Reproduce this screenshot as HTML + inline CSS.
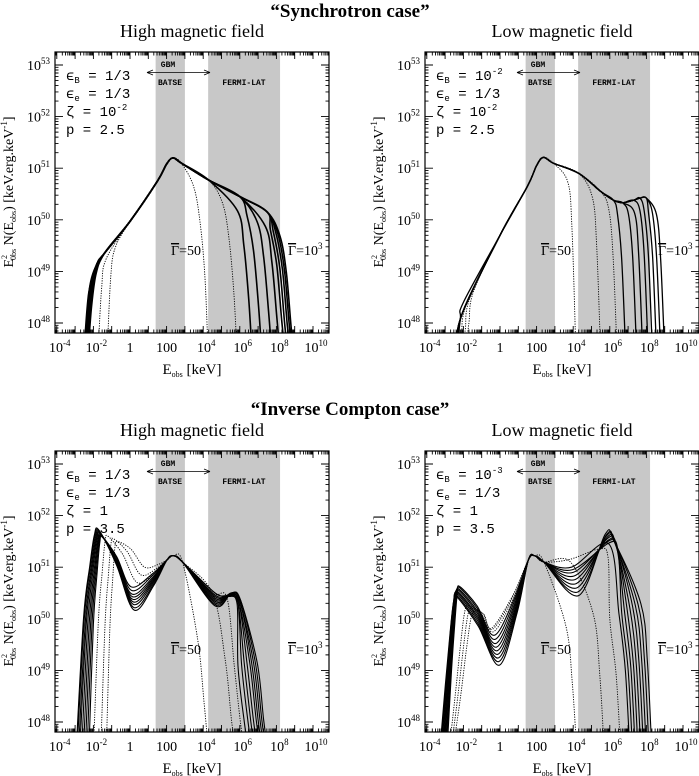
<!DOCTYPE html>
<html><head><meta charset="utf-8"><style>
html,body{margin:0;padding:0;background:#fff;}
svg{display:block;}
.serif{font-family:"Liberation Serif","DejaVu Serif",serif;}
.mono{font-family:"Liberation Mono","DejaVu Sans Mono",monospace;}
</style></head><body>
<svg id="fig" width="699" height="776" viewBox="0 0 699 776" xmlns="http://www.w3.org/2000/svg">
<text class="serif" x="350" y="17" text-anchor="middle" font-size="19" font-weight="bold">“Synchrotron case”</text>
<text class="serif" x="350" y="415" text-anchor="middle" font-size="19" font-weight="bold">“Inverse Compton case”</text>
</svg>
<script>
// ---------- data ----------
const xTickLogs = [-4,-2,0,2,4,6,8,10];
const xTickLabels = [["10","-4"],["10","-2"],["1",""],["100",""],["10","4"],["10","6"],["10","8"],["10","10"]];
const yTickLogs = [48,49,50,51,52,53];
const yTickLabels = ["48","49","50","51","52","53"];
const gbmBand = [1.4, 3.0];
const latBand = [4.27, 8.2];

// Synchrotron high B : base spectrum [logE, logN]
const syncHighBase = [[-2.8,47.0],[-2.5,48.2],[-2.2,48.85],[-1.8,49.15],[-1.4,49.35],[0,49.97],[1.5,50.75],[2.0,51.08],[2.35,51.2],[2.8,51.1],[4.3,50.77],[6,50.45],[7.5,50.15],[8.2,49.98],[9,49.7],[10,49.3]];
const syncHighLowCut = [-2.7,-2.65,-2.6,-2.55,-2.5,-2.45,-2.4,-2.35,-2.3,-1.75,-1.25];
const syncHighHighCut = [6.67,7.2,7.75,8.2,8.47,8.63,8.78,8.9,9.0,4.27,5.85];
const syncHighDotted = 2;

// Synchrotron low B
const syncLowBase = [[-2.8,47.2],[-2.3,48.1],[-2.0,48.4],[0,49.7],[1.5,50.65],[2.0,51.05],[2.37,51.21],[2.9,51.1],[4.3,50.9],[5.5,50.55],[6.2,50.38],[6.7,50.33],[7.3,50.38],[7.65,50.42],[8.0,50.42],[9,50.3]];
const syncLowLowCut = [-2.62,-2.6,-2.58,-2.56,-2.54,-2.52,-2.5,-2.48,-2.3,-2.1,-1.9];
const syncLowHighCut = [6.87,7.47,7.8,8.1,8.33,8.56,8.78,9.0,4.15,5.5,6.4];
const syncLowDotted = 3;

// IC high B (per curve key values)
const icHighLc = [-2.95,-2.9,-2.82,-2.75,-2.65,-2.55,-2.45,-2.35,-2.25,-2.0,-1.6,-1.3];
const icHighPE = [-1.7,-1.68,-1.65,-1.62,-1.6,-1.57,-1.55,-1.52,-1.5,-1.2,-0.9,-0.7];
const icHighPN = [51.72,51.7,51.68,51.66,51.64,51.62,51.6,51.6,51.58,51.6,51.55,51.5];
const icHighTE = [0.22,0.2,0.18,0.16,0.14,0.12,0.1,0.08,0.06,0.4,0.6,0.8];
const icHighTN = [50.17,50.22,50.28,50.33,50.38,50.43,50.48,50.55,50.62,50.7,50.85,51.0];
const icHighME = [2.37,2.37,2.37,2.37,2.37,2.37,2.37,2.37,2.37,2.37,2.37,2.37];
const icHighMN = [51.22,51.22,51.22,51.22,51.22,51.22,51.22,51.22,51.22,51.22,51.22,51.22];
const icHighRE = [4.65,4.65,4.65,4.65,4.65,4.65,4.65,4.65,4.65,4.5,4.5,4.5];
const icHighRN = [50.25,50.28,50.31,50.34,50.37,50.4,50.43,50.46,50.5,50.5,50.5,50.5];
const icHighBE = [5.55,5.55,5.5,5.5,5.45,5.45,5.4,5.4,5.35,5.3,5.3,5.3];
const icHighBN = [50.5,50.5,50.5,50.49,50.48,50.47,50.46,50.45,50.44,50.4,50.4,50.4];
const icHighHc = [7.55,7.45,7.35,7.25,7.15,7.0,6.85,6.7,6.5,4.3,5.8,6.3];
const icHighDotted = 3;

// IC low B
const icLowLc = [-3.3,-3.25,-3.2,-3.15,-3.1,-3.05,-3.0,-2.95,-2.9,-2.8,-2.7,-2.6];
const icLowPE = [-2.35,-2.35,-2.33,-2.3,-2.28,-2.25,-2.22,-2.2,-2.18,-1.7,-1.5,-1.3];
const icLowPN = [50.42,50.45,50.48,50.5,50.52,50.55,50.57,50.6,50.62,50.25,50.2,50.15];
const icLowTE = [-0.04,-0.07,-0.1,-0.13,-0.16,-0.2,-0.24,-0.28,-0.32,-0.35,-0.4,-0.45];
const icLowTN = [49.1,49.17,49.24,49.31,49.38,49.45,49.52,49.6,49.68,49.75,49.8,49.82];
const icLowME = [1.9,1.9,1.9,1.9,1.9,1.9,1.9,1.9,1.9,1.9,1.9,1.9];
const icLowMN = [51.22,51.22,51.22,51.22,51.22,51.22,51.22,51.22,51.22,51.22,51.22,51.22];
const icLowRE = [4.3,4.25,4.2,4.15,4.1,4.05,4.0,3.95,3.9,3.9,3.85,3.8];
const icLowRN = [50.45,50.52,50.6,50.68,50.76,50.83,50.9,50.95,51.0,51.05,51.1,51.15];
const icLowBE = [5.75,5.8,5.8,5.85,5.85,5.9,5.9,5.95,5.95,5.0,5.2,5.4];
const icLowBN = [51.64,51.62,51.6,51.58,51.55,51.52,51.5,51.47,51.45,51.2,51.3,51.35];
const icLowHc = [8.3,8.15,8.0,7.85,7.7,7.55,7.4,7.25,7.1,4.2,5.7,6.6];
const icLowDotted = 3;

// ---------- rendering ----------
const NS = "http://www.w3.org/2000/svg";
const svg = document.getElementById("fig");
const BOX = {x0:55, x1:329, y0:52, y1:333};
const X = v => 130 + 18.3*v;
const Y = v => 65 + (53 - v)*51.6;
const BOTTOM = 47.4;

function mk(tag, attrs, parent){
  const e = document.createElementNS(NS, tag);
  for (const k in attrs) e.setAttribute(k, attrs[k]);
  if (parent) parent.appendChild(e);
  return e;
}
function lin(k, x){
  if (x <= k[0][0]) return k[0][1];
  if (x >= k[k.length-1][0]) return k[k.length-1][1];
  for (let i=0;i<k.length-1;i++){
    if (x>=k[i][0] && x<=k[i+1][0]){
      const t=(x-k[i][0])/(k[i+1][0]-k[i][0]);
      return k[i][1]+t*(k[i+1][1]-k[i][1]);
    }
  }
}
function crPath(pts){
  const p = pts.map(q=>[X(q[0]),Y(q[1])]);
  let d = "M"+p[0][0].toFixed(2)+","+p[0][1].toFixed(2);
  for (let i=0;i<p.length-1;i++){
    const p0=p[Math.max(0,i-1)], p1=p[i], p2=p[i+1], p3=p[Math.min(p.length-1,i+2)];
    const c1=[p1[0]+(p2[0]-p0[0])/6, p1[1]+(p2[1]-p0[1])/6];
    const c2=[p2[0]-(p3[0]-p1[0])/6, p2[1]-(p3[1]-p1[1])/6];
    d+=" C"+c1[0].toFixed(2)+","+c1[1].toFixed(2)+" "+c2[0].toFixed(2)+","+c2[1].toFixed(2)+" "+p2[0].toFixed(2)+","+p2[1].toFixed(2);
  }
  return d;
}
function applyHigh(body, hc, prof){
  const first = hc + prof[0][0];
  let pts = body.filter(q=>q[0] < first - 0.05);
  prof.forEach(pr=>{ const x=hc+pr[0]; pts.push([x, lin(body,x)-pr[1]]); });
  pts.push([hc, BOTTOM]);
  const out=[]; pts.forEach(q=>{ if(!out.length || q[0]>out[out.length-1][0]+1e-3) out.push(q); });
  return out;
}
function applyLow(body, lc){
  const pts=[[lc,BOTTOM],[lc+0.2, lin(body,lc+0.2)-0.6],[lc+0.45, lin(body,lc+0.45)-0.15]];
  body.forEach(q=>{ if(q[0]>lc+0.6) pts.push(q); });
  return pts;
}

function panel(ox, oy, opts, idx){
  const g = mk("g", {transform:`translate(${ox},${oy})`}, svg);
  
  
  const cid = "clip"+idx;
  const defs = mk("defs", {}, g);
  const cp = mk("clipPath", {id:cid}, defs);
  mk("rect", {x:BOX.x0, y:BOX.y0, width:BOX.x1-BOX.x0, height:BOX.y1-BOX.y0}, cp);
  const t = mk("text", {x:192, y:37, "text-anchor":"middle", "font-size":18, class:"serif"}, g);
  
  
  t.textContent = opts.title;
  const b1 = mk("rect", {x:X(gbmBand[0]), y:BOX.y0, width:X(gbmBand[1])-X(gbmBand[0]), height:BOX.y1-BOX.y0, fill:"#c8c8c8"}, g);
  
  
  const b2 = mk("rect", {x:X(latBand[0]), y:BOX.y0, width:X(latBand[1])-X(latBand[0]), height:BOX.y1-BOX.y0, fill:"#c8c8c8"}, g);
  
  
  const cg = mk("g", {"clip-path":`url(#${cid})`}, g);
  
  
  opts.curves.forEach((c,i)=>{
    const p = mk("path", {d:crPath(c.pts), fill:"none", stroke:"#000",
      "stroke-width": c.dotted?0.9:opts.sw, "stroke-linejoin":"round"}, cg);
    if (c.dotted) p.setAttribute("stroke-dasharray","1.2 1.3");
    
    
  });
  const fr = mk("rect", {x:BOX.x0, y:BOX.y0, width:BOX.x1-BOX.x0, height:BOX.y1-BOX.y0, fill:"none", stroke:"#000", "stroke-width":1.2}, g);
  
  
  let d="";
  for (let dec=-5; dec<=11; dec++){
    for (let m=1;m<=9;m++){
      const x = X(dec+Math.log10(m));
      if (x<=BOX.x0+0.5 || x>=BOX.x1-0.5) continue;
      const L = m===1?7:3.5;
      d+=`M${x.toFixed(2)},${BOX.y1}v${-L}M${x.toFixed(2)},${BOX.y0}v${L}`;
    }
  }
  for (let dec=47; dec<=53; dec++){
    for (let m=1;m<=9;m++){
      const y = Y(dec+Math.log10(m));
      if (y<=BOX.y0+0.5 || y>=BOX.y1-0.5) continue;
      const L = m===1?8:3.5;
      d+=`M${BOX.x0},${y.toFixed(2)}h${L}M${BOX.x1},${y.toFixed(2)}h${-L}`;
    }
  }
  const tk = mk("path", {d:d, stroke:"#000", "stroke-width":0.9, fill:"none"}, g);
  
  
  xTickLogs.forEach((v,i)=>{
    const tx = mk("text", {x:X(v)+(xTickLabels[i][1]?3:0), y:352, "text-anchor":"middle", "font-size":14, class:"serif"}, g);
    
    
    tx.appendChild(document.createTextNode(xTickLabels[i][0]));
    if (xTickLabels[i][1]){
      const s = mk("tspan", {dy:-6, "font-size":9}, tx);
      s.textContent = xTickLabels[i][1];
    }
  });
  yTickLogs.forEach((v,i)=>{
    const ty = mk("text", {x:50, y:Y(v)+5, "text-anchor":"end", "font-size":14, class:"serif"}, g);
    
    
    ty.appendChild(document.createTextNode("10"));
    const s = mk("tspan", {dy:-6, "font-size":9}, ty);
    s.textContent = yTickLabels[i];
  });
  const xt = mk("text", {x:192, y:374, "text-anchor":"middle", "font-size":15, class:"serif"}, g);
  
  
  xt.innerHTML = 'E<tspan font-size="8" dy="3">obs</tspan><tspan dy="-3"> [keV]</tspan>';
  const yt = mk("text", {transform:"translate(13,192) rotate(-90)", "text-anchor":"middle", "font-size":14, class:"serif"}, g);
  
  
  yt.innerHTML = 'E<tspan font-size="8" dy="-6">2</tspan><tspan font-size="8" dx="-5" dy="9">0bs</tspan><tspan dy="-3"> N(E</tspan><tspan font-size="8" dy="3">obs</tspan><tspan dy="-3">)  [keV.erg.keV</tspan><tspan font-size="9" dy="-6">-1</tspan><tspan dy="6">]</tspan>';
  opts.params.forEach((ln,i)=>{
    const a = mk("text", {x:66, y:80+i*18, "font-size":14, class:"mono"}, g);
    
    
    a.innerHTML = ln;
  });
  const gb = mk("text", {x:168, y:67, "text-anchor":"middle", "font-size":8, class:"mono", "font-weight":"bold"}, g);
    gb.textContent="GBM";
  const ba = mk("text", {x:170, y:85, "text-anchor":"middle", "font-size":8, class:"mono", "font-weight":"bold"}, g);
    ba.textContent="BATSE";
  const fl = mk("text", {x:244, y:85, "text-anchor":"middle", "font-size":8, class:"mono", "font-weight":"bold"}, g);
    fl.textContent="FERMI-LAT";
  const ar = mk("path", {d:"M147,72.5H210M147,72.5l6,-2.5M147,72.5l6,2.5M210,72.5l-6,-2.5M210,72.5l-6,2.5", stroke:"#000", "stroke-width":0.8, fill:"none"}, g);
   
  const g1 = mk("text", {x:171, y:255, "font-size":14, class:"serif"}, g);
   
  g1.innerHTML = '<tspan text-decoration="overline">Γ</tspan>=50';
  const g2 = mk("text", {x:288, y:255, "font-size":14, class:"serif"}, g);
   
  g2.innerHTML = '<tspan text-decoration="overline">Γ</tspan>=10<tspan font-size="9" dy="-6">3</tspan>';
}

function syncCurves(base, lcs, hcs, ndot, prof){
  const n = lcs.length;
  return lcs.map((lc,i)=>({dotted: i>=n-ndot, pts: applyHigh(applyLow(base, lc), hcs[i], prof)}));
}
function icCurves(lc,pE,pN,tE,tN,mE,mN,rE,rN,bE,bN,hc,ndot){
  const n = lc.length;
  return lc.map((_,i)=>{
    const w = pE[i]-lc[i];
    const body = [[lc[i],BOTTOM],[lc[i]+0.33*w, pN[i]-1.7],[lc[i]+0.6*w, pN[i]-0.7],[pE[i]-0.2*w, pN[i]-0.1],[pE[i],pN[i]],
      [(pE[i]+tE[i])/2,(pN[i]+tN[i])/2+0.1],[tE[i],tN[i]],
      [(tE[i]+mE[i])/2,(tN[i]+mN[i])/2-0.05],[mE[i]-0.35,mN[i]-0.08],[mE[i],mN[i]],[mE[i]+0.5,mN[i]-0.12],
      [rE[i],rN[i]],[bE[i],bN[i]],[bE[i]+0.5,bN[i]-0.15]];
    const clean=[]; body.forEach(q=>{ if(!clean.length || q[0]>clean[clean.length-1][0]+1e-3) clean.push(q); });
    return {dotted: i>=n-ndot, pts: applyHigh(clean, hc[i], [[-0.6,1.2],[-0.25,2.3]])};
  });
}

const profHigh = [[-0.8,0.3],[-0.45,0.9],[-0.18,1.9]];
const profLow = [[-0.45,0.25],[-0.22,1.1]];

panel(0,0,{name:"sync-high-b-panel", title:"High magnetic field", sw:1.6,
  params:['ϵ<tspan font-size="9" dy="3">B</tspan><tspan dy="-3"> = 1/3</tspan>','ϵ<tspan font-size="9" dy="3">e</tspan><tspan dy="-3"> = 1/3</tspan>','ζ = 10<tspan font-size="9" dy="-6">-2</tspan>','<tspan>p = 2.5</tspan>'],
  curves: syncCurves(syncHighBase, syncHighLowCut, syncHighHighCut, syncHighDotted, profHigh)},0);
panel(370,0,{name:"sync-low-b-panel", title:"Low magnetic field", sw:1.3,
  params:['ϵ<tspan font-size="9" dy="3">B</tspan><tspan dy="-3"> = 10</tspan><tspan font-size="9" dy="-6">-2</tspan>','ϵ<tspan font-size="9" dy="3">e</tspan><tspan dy="-3"> = 1/3</tspan>','ζ = 10<tspan font-size="9" dy="-6">-2</tspan>','<tspan>p = 2.5</tspan>'],
  curves: syncCurves(syncLowBase, syncLowLowCut, syncLowHighCut, syncLowDotted, profLow)},1);
panel(0,399,{name:"ic-high-b-panel", title:"High magnetic field", sw:1.1,
  params:['ϵ<tspan font-size="9" dy="3">B</tspan><tspan dy="-3"> = 1/3</tspan>','ϵ<tspan font-size="9" dy="3">e</tspan><tspan dy="-3"> = 1/3</tspan>','ζ = 1','<tspan>p = 3.5</tspan>'],
  curves: icCurves(icHighLc,icHighPE,icHighPN,icHighTE,icHighTN,icHighME,icHighMN,icHighRE,icHighRN,icHighBE,icHighBN,icHighHc,icHighDotted)},2);
panel(370,399,{name:"ic-low-b-panel", title:"Low magnetic field", sw:1.1,
  params:['ϵ<tspan font-size="9" dy="3">B</tspan><tspan dy="-3"> = 10</tspan><tspan font-size="9" dy="-6">-3</tspan>','ϵ<tspan font-size="9" dy="3">e</tspan><tspan dy="-3"> = 1/3</tspan>','ζ = 1','<tspan>p = 3.5</tspan>'],
  curves: icCurves(icLowLc,icLowPE,icLowPN,icLowTE,icLowTN,icLowME,icLowMN,icLowRE,icLowRN,icLowBE,icLowBN,icLowHc,icLowDotted)},3);
</script>
</body></html>
